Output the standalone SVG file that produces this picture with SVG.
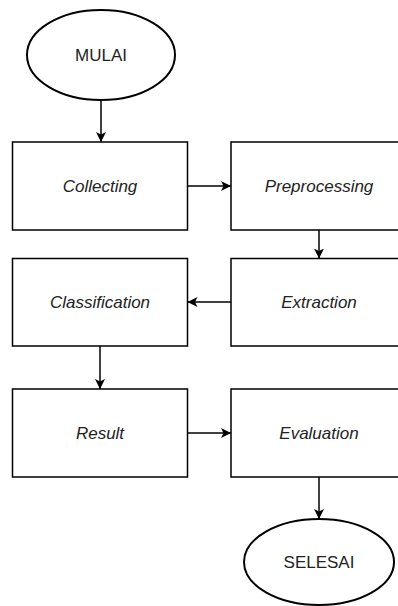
<svg xmlns="http://www.w3.org/2000/svg" width="398" height="606" viewBox="0 0 398 606">
<style>
.box{fill:#fff;stroke:#000;stroke-width:1.5}
.ell{fill:#fff;stroke:#000;stroke-width:2}
.t{font-family:"Liberation Sans",Arial,sans-serif;font-size:17px;fill:#222;text-anchor:middle}
.i{font-style:italic}
.c{fill:none;stroke:#000;stroke-width:1.5}
</style>
<defs>
<marker id="ah" markerUnits="userSpaceOnUse" markerWidth="12" markerHeight="12" refX="10" refY="5" orient="auto">
<path d="M0,0 L10,5 L0,10 L2.5,5 Z" fill="#000"/>
</marker>
</defs>
<rect width="398" height="606" fill="#fff"/>
<g id="connectors">
<line class="c" x1="101" y1="100" x2="101" y2="142" marker-end="url(#ah)"/>
<line class="c" x1="187.5" y1="186" x2="231" y2="186" marker-end="url(#ah)"/>
<line class="c" x1="319" y1="230" x2="319" y2="258.5" marker-end="url(#ah)"/>
<line class="c" x1="231" y1="302" x2="187.5" y2="302" marker-end="url(#ah)"/>
<line class="c" x1="100" y1="346" x2="100" y2="389" marker-end="url(#ah)"/>
<line class="c" x1="187.5" y1="433" x2="231" y2="433" marker-end="url(#ah)"/>
<line class="c" x1="319" y1="477" x2="319" y2="519" marker-end="url(#ah)"/>
</g>
<g id="mulai">
<ellipse class="ell" cx="101" cy="55" rx="74" ry="45"/>
<text class="t" x="101" y="61">MULAI</text>
</g>
<g id="collecting">
<rect class="box" x="12.5" y="142" width="175" height="88"/>
<text class="t i" x="100" y="192">Collecting</text>
</g>
<g id="preprocessing">
<rect class="box" x="231" y="142" width="175" height="88"/>
<text class="t i" x="319" y="192">Preprocessing</text>
</g>
<g id="extraction">
<rect class="box" x="231" y="258.5" width="175" height="87.5"/>
<text class="t i" x="319" y="308">Extraction</text>
</g>
<g id="classification">
<rect class="box" x="12.5" y="258.5" width="175" height="87.5"/>
<text class="t i" x="100" y="308">Classification</text>
</g>
<g id="result">
<rect class="box" x="12.5" y="389" width="175" height="88"/>
<text class="t i" x="100" y="439">Result</text>
</g>
<g id="evaluation">
<rect class="box" x="231" y="389" width="175" height="88"/>
<text class="t i" x="319" y="439">Evaluation</text>
</g>
<g id="selesai">
<ellipse class="ell" cx="319" cy="562" rx="75" ry="43"/>
<text class="t" x="319" y="568">SELESAI</text>
</g>
</svg>
